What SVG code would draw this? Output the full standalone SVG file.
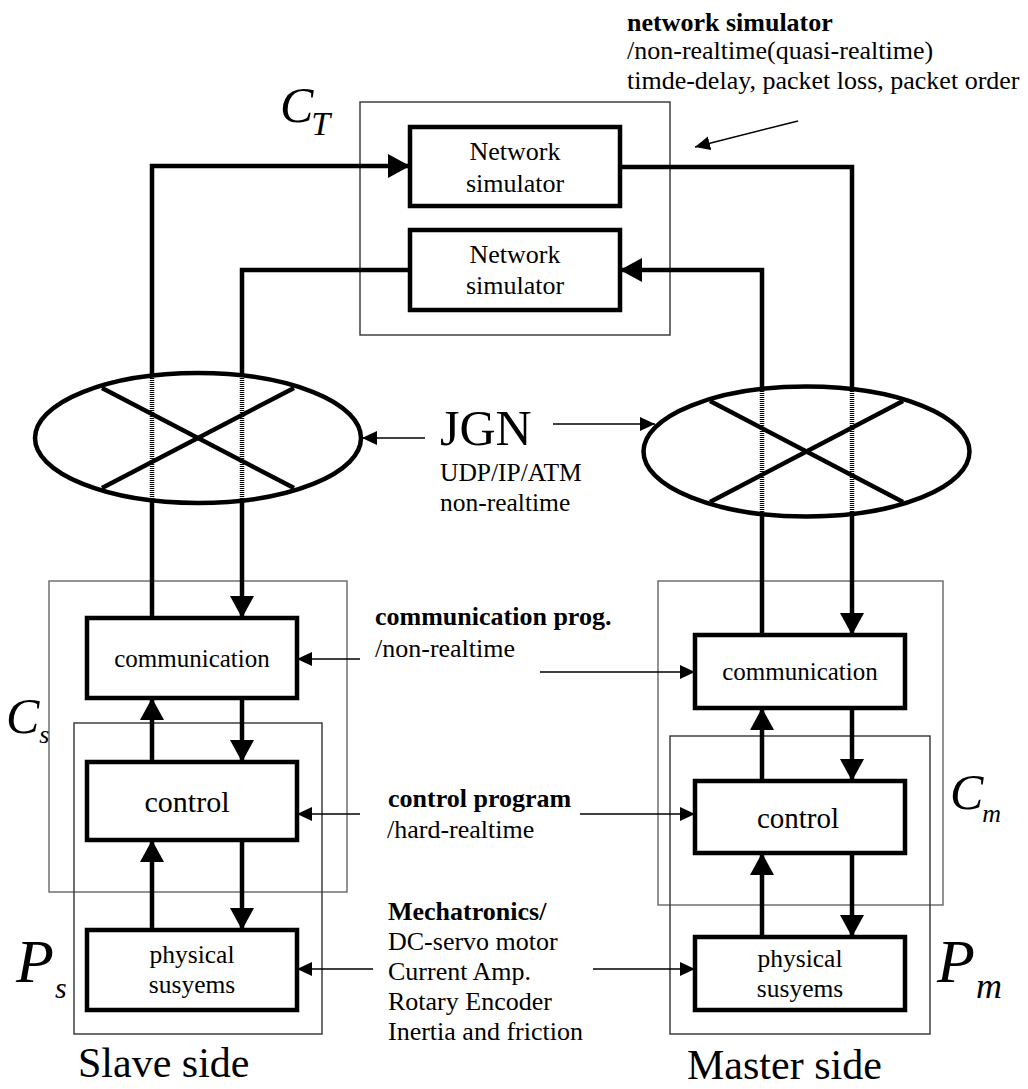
<svg xmlns="http://www.w3.org/2000/svg" width="1028" height="1089" viewBox="0 0 1028 1089">
  <style>
    .t { font-family: "Liberation Serif", "Times New Roman", serif; fill: #000; }
    .b { font-weight: bold; }
    .it { font-style: italic; }
    .box { fill: #fff; stroke: #000; stroke-width: 4.5; }
    .frame { fill: none; stroke: #333; stroke-width: 1.4; }
    .frameg { fill: none; stroke: #666; stroke-width: 1.4; }
    .thick { fill: none; stroke: #000; stroke-width: 4.5; }
    .dot { fill: none; stroke: #000; stroke-width: 4.5; stroke-dasharray: 1 1; }
    .thin { fill: none; stroke: #000; stroke-width: 1.5; }
    .ell { fill: #fff; stroke: #000; stroke-width: 4.5; }
  </style>
  <defs>
    <marker id="big" markerUnits="userSpaceOnUse" markerWidth="24" markerHeight="24" refX="22" refY="12" orient="auto" viewBox="0 0 24 24">
      <path d="M0,0 L22,12 L0,24 z" fill="#000"/>
    </marker>
    <marker id="small" markerUnits="userSpaceOnUse" markerWidth="16" markerHeight="16" refX="15" refY="7" orient="auto" viewBox="0 0 16 14">
      <path d="M0,0 L15,7 L0,14 z" fill="#000"/>
    </marker>
  </defs>

  <!-- frames -->
  <g id="frame-CT"><rect class="frame" x="360" y="102" width="310" height="233"/></g>
  <g id="frame-Cs"><rect class="frameg" x="49" y="581" width="298" height="311"/></g>
  <g id="frame-Ps"><rect class="frame" x="74" y="723" width="248" height="311"/></g>
  <g id="frame-Cm"><rect class="frameg" x="658" y="581" width="285" height="324"/></g>
  <g id="frame-Pm"><rect class="frame" x="670" y="736" width="260" height="298"/></g>

  <!-- JGN ellipses -->
  <g id="jgn-slave">
    <ellipse class="ell" cx="198" cy="438" rx="163" ry="65"/>
    <line class="thick" x1="102" y1="388" x2="294" y2="488"/>
    <line class="thick" x1="102" y1="488" x2="294" y2="388"/>
  </g>
  <g id="jgn-master">
    <ellipse class="ell" cx="806.5" cy="451.5" rx="163" ry="65"/>
    <line class="thick" x1="710" y1="401" x2="903" y2="502"/>
    <line class="thick" x1="710" y1="502" x2="903" y2="401"/>
  </g>

  <!-- connectors -->
  <g id="connectors">
    <path class="thick" d="M152,618 V501"/>
    <path class="dot" d="M152,501 V376"/>
    <path class="thick" d="M152,376 V166 H410" marker-end="url(#big)"/>
    <path class="thick" d="M410,270 H242 V376"/>
    <path class="dot" d="M242,376 V501"/>
    <path class="thick" d="M242,501 V618" marker-end="url(#big)"/>
    <path class="thick" d="M620,167 H852 V389"/>
    <path class="dot" d="M852,389 V514"/>
    <path class="thick" d="M852,514 V635" marker-end="url(#big)"/>
    <path class="thick" d="M762,635 V514"/>
    <path class="dot" d="M762,514 V389"/>
    <path class="thick" d="M762,389 V270 H620" marker-end="url(#big)"/>

    <path class="thick" d="M152,762 V698" marker-end="url(#big)"/>
    <path class="thick" d="M242,698 V762" marker-end="url(#big)"/>
    <path class="thick" d="M152,930 V840" marker-end="url(#big)"/>
    <path class="thick" d="M242,840 V930" marker-end="url(#big)"/>
    <path class="thick" d="M762,781 V708" marker-end="url(#big)"/>
    <path class="thick" d="M852,708 V781" marker-end="url(#big)"/>
    <path class="thick" d="M762,937 V853" marker-end="url(#big)"/>
    <path class="thick" d="M852,853 V937" marker-end="url(#big)"/>

    <path class="thin" d="M360,659 H297" marker-end="url(#small)"/>
    <path class="thin" d="M360,814 H297" marker-end="url(#small)"/>
    <path class="thin" d="M373,969 H297" marker-end="url(#small)"/>
    <path class="thin" d="M540,672 H695" marker-end="url(#small)"/>
    <path class="thin" d="M580,814 H695" marker-end="url(#small)"/>
    <path class="thin" d="M593,969 H695" marker-end="url(#small)"/>
    <path class="thin" d="M798,121 L695,147" marker-end="url(#small)"/>
    <path class="thin" d="M425,438 H362" marker-end="url(#small)"/>
    <path class="thin" d="M553,424 H655" marker-end="url(#small)"/>
  </g>

  <!-- network simulator boxes -->
  <g id="netsim-1">
    <rect class="box" x="410" y="127" width="210" height="79"/>
    <text class="t" x="515" y="160" font-size="26" text-anchor="middle">Network</text>
    <text class="t" x="515" y="192" font-size="26" text-anchor="middle">simulator</text>
  </g>
  <g id="netsim-2">
    <rect class="box" x="410" y="230" width="210" height="80"/>
    <text class="t" x="515" y="263" font-size="26" text-anchor="middle">Network</text>
    <text class="t" x="515" y="294" font-size="26" text-anchor="middle">simulator</text>
  </g>

  <!-- slave side -->
  <g id="slave-comm">
    <rect class="box" x="87" y="618" width="210" height="80"/>
    <text class="t" x="192" y="667" font-size="25" text-anchor="middle">communication</text>
  </g>
  <g id="slave-control">
    <rect class="box" x="87" y="762" width="210" height="78"/>
    <text class="t" x="187" y="812" font-size="30" text-anchor="middle">control</text>
  </g>
  <g id="slave-physical">
    <rect class="box" x="87" y="930" width="210" height="80"/>
    <text class="t" x="192" y="963" font-size="25.5" text-anchor="middle">physical</text>
    <text class="t" x="192" y="993" font-size="25.5" text-anchor="middle">susyems</text>
  </g>

  <!-- master side -->
  <g id="master-comm">
    <rect class="box" x="695" y="635" width="210" height="73"/>
    <text class="t" x="800" y="680" font-size="25" text-anchor="middle">communication</text>
  </g>
  <g id="master-control">
    <rect class="box" x="695" y="781" width="210" height="72"/>
    <text class="t" x="798" y="828" font-size="29" text-anchor="middle">control</text>
  </g>
  <g id="master-physical">
    <rect class="box" x="695" y="937" width="210" height="73"/>
    <text class="t" x="800" y="967" font-size="25.5" text-anchor="middle">physical</text>
    <text class="t" x="800" y="997" font-size="25.5" text-anchor="middle">susyems</text>
  </g>

  <!-- labels -->
  <g id="label-netsim">
    <text class="t b" x="627" y="31" font-size="26">network simulator</text>
    <text class="t" x="627" y="59" font-size="26">/non-realtime(quasi-realtime)</text>
    <text class="t" x="627" y="89" font-size="26">timde-delay, packet loss, packet order</text>
  </g>
  <g id="label-jgn">
    <text class="t" x="440" y="445" font-size="50">JGN</text>
    <text class="t" x="440" y="481" font-size="25.5">UDP/IP/ATM</text>
    <text class="t" x="440" y="511" font-size="25.5">non-realtime</text>
  </g>
  <g id="label-comm">
    <text class="t b" x="375" y="625" font-size="26">communication prog.</text>
    <text class="t" x="375" y="657" font-size="26">/non-realtime</text>
  </g>
  <g id="label-control">
    <text class="t b" x="388" y="807" font-size="26">control program</text>
    <text class="t" x="387" y="838" font-size="26">/hard-realtime</text>
  </g>
  <g id="label-mech">
    <text class="t b" x="388" y="920" font-size="26">Mechatronics/</text>
    <text class="t" x="388" y="950" font-size="26">DC-servo motor</text>
    <text class="t" x="388" y="980" font-size="26">Current Amp.</text>
    <text class="t" x="388" y="1010" font-size="26">Rotary Encoder</text>
    <text class="t" x="388" y="1040" font-size="26">Inertia and friction</text>
  </g>
  <g id="label-CT">
    <text class="t it" x="280" y="122" font-size="50">C<tspan dx="-2" dy="13" font-size="34">T</tspan></text>
  </g>
  <g id="label-Cs">
    <text class="t it" x="6" y="733" font-size="50">C<tspan dx="0" dy="10" font-size="26">s</tspan></text>
  </g>
  <g id="label-Cm">
    <text class="t it" x="950" y="809" font-size="50">C<tspan dx="-1" dy="13" font-size="26">m</tspan></text>
  </g>
  <g id="label-Ps">
    <text class="t it" x="16" y="982" font-size="62">P<tspan dx="1" dy="16" font-size="30">s</tspan></text>
  </g>
  <g id="label-Pm">
    <text class="t it" x="937" y="982" font-size="62">P<tspan dx="1" dy="16" font-size="36">m</tspan></text>
  </g>
  <g id="label-sides">
    <text class="t" x="78" y="1077" font-size="42">Slave side</text>
    <text class="t" x="687" y="1079" font-size="42">Master side</text>
  </g>
</svg>
